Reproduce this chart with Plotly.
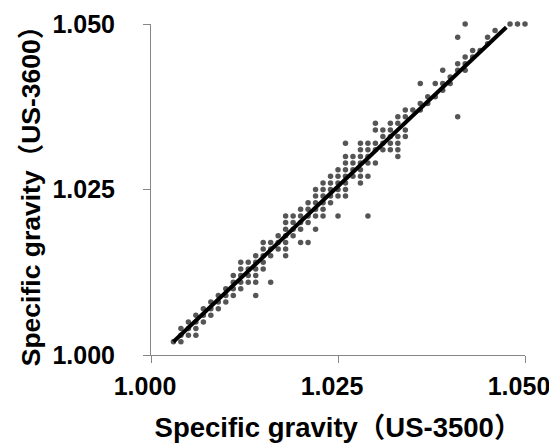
import plotly.graph_objects as go

# Specific gravity readings, in thousandths above 1.000
sg_3500_milli = [
    3, 4,
    4, 5, 6,
    4, 5, 6,
    5, 6, 7,
    6, 7, 8,
    7, 8, 9,
    8, 9, 10,
    9, 10, 11, 14,
    10, 11, 12,
    11, 12, 13, 14, 16,
    11, 12, 13, 14,
    12, 13, 14, 15,
    12, 13, 14, 15,
    14, 15, 16, 18,
    15, 16, 17, 18,
    15, 16, 17, 18, 20, 21,
    17, 18, 19,
    18, 19, 20, 22,
    18, 19, 20, 21,
    18, 19, 20, 21, 22, 23, 25, 29,
    20, 21, 22, 23,
    21, 22, 23, 24,
    22, 23, 24, 25, 26,
    22, 23, 24, 25, 26,
    23, 24, 25, 26, 28,
    24, 25, 26, 27, 28, 29,
    25, 26, 27, 28,
    26, 27, 28, 29, 30,
    26, 27, 28, 29, 33,
    28, 29, 30, 31, 32, 33,
    26, 28, 29, 30, 31, 32, 33,
    31, 32, 33, 34,
    30, 31, 32, 34,
    30, 32, 33,
    33, 34, 41,
    34, 35, 36,
    36, 37,
    37, 38,
    39,
    36, 38, 39, 40,
    40,
    39, 41, 42,
    41, 42,
    42, 43,
    43, 44,
    45,
    41, 45,
    46,
    42, 48, 49, 50,
]
sg_3600_milli = [
    2, 2,
    3, 3, 3,
    4, 4, 4,
    5, 5, 5,
    6, 6, 6,
    7, 7, 7,
    8, 8, 8,
    9, 9, 9, 9,
    10, 10, 10,
    11, 11, 11, 11, 11,
    12, 12, 12, 12,
    13, 13, 13, 13,
    14, 14, 14, 14,
    15, 15, 15, 15,
    16, 16, 16, 16,
    17, 17, 17, 17, 17, 17,
    18, 18, 18,
    19, 19, 19, 19,
    20, 20, 20, 20,
    21, 21, 21, 21, 21, 21, 21, 21,
    22, 22, 22, 22,
    23, 23, 23, 23,
    24, 24, 24, 24, 24,
    25, 25, 25, 25, 25,
    26, 26, 26, 26, 26,
    27, 27, 27, 27, 27, 27,
    28, 28, 28, 28,
    29, 29, 29, 29, 29,
    30, 30, 30, 30, 30,
    31, 31, 31, 31, 31, 31,
    32, 32, 32, 32, 32, 32, 32,
    33, 33, 33, 33,
    34, 34, 34, 34,
    35, 35, 35,
    36, 36, 36,
    37, 37, 37,
    38, 38,
    39, 39,
    40,
    41, 41, 41, 41,
    42,
    43, 43, 43,
    44, 44,
    45, 45,
    46, 46,
    47,
    48, 48,
    49,
    50, 50, 50, 50,
]
sg_3500 = [1 + v / 1000 for v in sg_3500_milli]
sg_3600 = [1 + v / 1000 for v in sg_3600_milli]

# Regression line end points
fit_x = [1.003, 1.0475]
fit_y = [1.002, 1.0495]

tick_vals = [1.000, 1.025, 1.050]
tick_text = ["1.000", "1.025", "1.050"]

FONT = "Liberation Sans, Arial, Noto Sans CJK SC, sans-serif"

fig = go.Figure()
fig.add_trace(go.Scatter(
    x=sg_3500, y=sg_3600, mode="markers",
    marker=dict(size=5.5, color="#555555", line=dict(width=0)),
    cliponaxis=False, showlegend=False, hoverinfo="x+y",
))
fig.add_trace(go.Scatter(
    x=fit_x, y=fit_y, mode="lines",
    line=dict(color="#000000", width=4),
    showlegend=False, hoverinfo="skip",
))

axis_common = dict(
    range=[1.000, 1.050], tickvals=tick_vals, ticktext=tick_text,
    showgrid=False, zeroline=False, showline=True,
    linecolor="#868686", linewidth=1, automargin=False,
    ticks="outside", ticklen=7, tickcolor="#868686", tickwidth=1,
    tickfont=dict(family=FONT, size=25, color="#000000", weight="bold"),
)

# the page body has an 8px default margin, so the figure is offset by 8px
fig.update_layout(
    width=549, height=435,
    margin=dict(l=143, r=32, t=16, b=88),
    paper_bgcolor="white", plot_bgcolor="white",
    xaxis=dict(
        **axis_common,
        title=dict(text="Specific gravity（US-3500）",
                   font=dict(family=FONT, size=27.5, color="#000000", weight="bold"),
                   standoff=24),
        ticklabelstandoff=2,
        ticklabelshift=-6,
    ),
    yaxis=dict(
        **axis_common,
        title=dict(text="Specific gravity（US-3600）",
                   font=dict(family=FONT, size=26.5, color="#000000", weight="bold"),
                   standoff=4),
        ticklabelstandoff=23,
    ),
)

fig.write_html("out.html")
